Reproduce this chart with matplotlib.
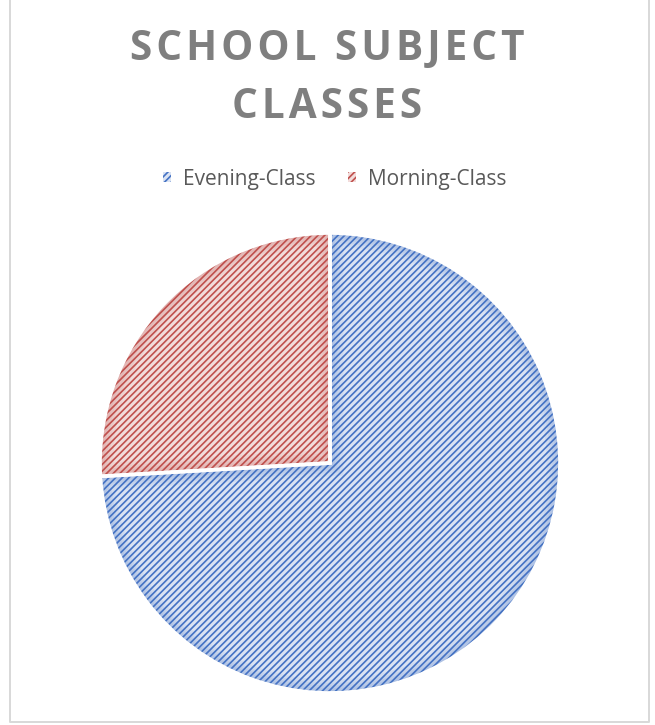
import matplotlib
matplotlib.use('Agg')
import matplotlib.pyplot as plt
from matplotlib.patches import Patch, Wedge
from matplotlib.lines import Line2D

plt.rcParams['font.family'] = ['Open Sans', 'DejaVu Sans']
plt.rcParams['hatch.linewidth'] = 1.0

# data
labels = ['Evening-Class', 'Morning-Class']
values = [20, 7]
hatch_colors = ['#4472c4', '#c0504d']
fill_colors = ['#dae3f3', '#f2dcdb']
title_lines = ['SCHOOL SUBJECT', 'CLASSES']

W, H, DPI = 655, 725, 120
fig = plt.figure(figsize=(W / DPI, H / DPI), dpi=DPI)

# pie axes: centre (330, 463) px, radius 230 px
cx, cy, r, pad = 330, 463, 230, 10
ax = fig.add_axes([(cx - r - pad) / W, (H - cy - r - pad) / H,
                   2 * (r + pad) / W, 2 * (r + pad) / H])

wedges, _ = ax.pie(values, startangle=90, counterclock=False, colors=fill_colors,
                   wedgeprops=dict(linewidth=0))
for w, hc in zip(wedges, hatch_colors):
    w.set_hatch('//////')
    w.set_edgecolor(hc)
    w.set_linewidth(0)
    # soft inner shading along the slice border
    for lw in [3, 6, 9, 12, 16]:
        rim = Wedge(w.center, w.r, w.theta1, w.theta2, fill=False,
                    edgecolor=hc, linewidth=lw, alpha=0.07)
        ax.add_patch(rim)
        rim.set_clip_path(w)

# white separators between the slices
ax.pie(values, startangle=90, counterclock=False,
       wedgeprops=dict(fill=False, edgecolor='white', linewidth=2.2))

lim = (r + pad) / r
ax.set_xlim(-lim, lim)
ax.set_ylim(-lim, lim)
ax.set_aspect('equal')
ax.axis('off')

# title, letter-spaced with hair spaces
hair = '\u200a'
for line, ypx in zip(title_lines, [50, 107]):
    fig.text(0.5, 1 - ypx / H, hair.join(line), ha='center', va='center',
             fontsize=24.3, fontweight='bold', color='#7f7f7f')

# legend
handles = [Patch(facecolor=f, edgecolor=h, hatch='//////', linewidth=0)
           for f, h in zip(fill_colors, hatch_colors)]
fig.legend(handles, labels, loc='center', bbox_to_anchor=(0.5 + 7 / W, 1 - 179 / H),
           ncol=2, frameon=False, fontsize=12.5, labelcolor='#595959',
           handlelength=0.4, handleheight=0.4, handletextpad=0.55,
           columnspacing=1.55)

# chart border
bc = '#d9d9d9'
x0, x1, y1 = 9.5 / W, 648.5 / W, 1 - 721.5 / H
fig.add_artist(Line2D([x0, x0, x1, x1], [1.01, y1, y1, 1.01],
                      transform=fig.transFigure, color=bc, linewidth=1.2))

fig.savefig('out.png', dpi=DPI)
